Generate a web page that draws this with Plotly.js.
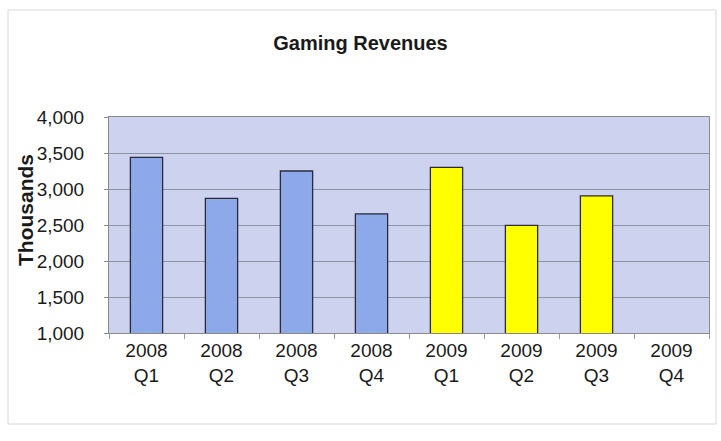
<!DOCTYPE html>
<html>
<head>
<meta charset="utf-8">
<script src="https://cdn.plot.ly/plotly-3.0.1.min.js"></script>
<style>
  html, body { margin: 0; padding: 0; background: #ffffff; }
  #chart { width: 721px; height: 441px; }
</style>
</head>
<body>
<div id="chart"></div>
<script>
const years = ["2008", "2008", "2008", "2008", "2009", "2009", "2009", "2009"];
const quarters = ["Q1", "Q2", "Q3", "Q4", "Q1", "Q2", "Q3", "Q4"];
const revenues = [3440, 2870, 3250, 2655, 3300, 2495, 2905, null];
const yTickValues = [1000, 1500, 2000, 2500, 3000, 3500, 4000];
const yTickLabels = ["1,000", "1,500", "2,000", "2,500", "3,000", "3,500", "4,000"];

const categories = years.map((y, i) => y + "<br>" + quarters[i]);
const barColors = years.map(y => y === "2008" ? "#8DA9EA" : "#FFFF00");

const W = 721, H = 441;
const m = { l: 109, r: 12, t: 117, b: 108 };
const pw = W - m.l - m.r, ph = H - m.t - m.b;
const px = v => (v - m.l) / pw;
const py = v => 1 - (v - m.t) / ph;

const trace = {
  type: "bar",
  x: categories,
  y: revenues,
  marker: { color: barColors, line: { color: "#2B2B3A", width: 1.3 } },
  width: 0.43,
  hoverinfo: "skip"
};

const layout = {
  width: W, height: H,
  margin: m,
  paper_bgcolor: "#ffffff",
  plot_bgcolor: "#CDD2EF",
  showlegend: false,
  font: { family: "Liberation Sans, Arial, sans-serif", color: "#1a1a1a" },
  title: {
    text: "Gaming Revenues",
    font: { family: "Liberation Sans, Arial, sans-serif", size: 20, color: "#1a1a1a", weight: "bold" },
    x: 0.5, xref: "container", xanchor: "center",
    y: 1 - 43 / H, yref: "container", yanchor: "middle"
  },
  xaxis: {
    type: "category",
    tickfont: { size: 19 },
    ticks: "outside", tickson: "boundaries", ticklen: 5, tickcolor: "#9a9a9a",
    showline: true, linecolor: "#8a8a8a", linewidth: 1,
    mirror: true,
    showgrid: false, fixedrange: true
  },
  yaxis: {
    range: [1000, 4000],
    tickvals: yTickValues, ticktext: yTickLabels,
    tickfont: { size: 19 },
    ticks: "outside", ticklen: 4, tickcolor: "#8a8a8a",
    ticklabelstandoff: 16,
    showgrid: true, gridcolor: "#8E93A6", gridwidth: 1,
    showline: true, linecolor: "#8a8a8a", linewidth: 1, mirror: true,
    zeroline: false, fixedrange: true
  },
  annotations: [{
    text: "Thousands",
    xref: "paper", yref: "paper",
    x: px(25), y: py(210),
    showarrow: false, textangle: -90,
    font: { family: "Liberation Sans, Arial, sans-serif", size: 21, color: "#1a1a1a", weight: "bold" },
    xanchor: "center", yanchor: "middle"
  }],
  shapes: [{
    type: "rect", xref: "paper", yref: "paper", layer: "below",
    x0: px(8), x1: px(716), y0: py(10), y1: py(424),
    line: { color: "#d8d8d8", width: 1 }, fillcolor: "rgba(0,0,0,0)"
  }]
};

Plotly.newPlot("chart", [trace], layout, { displayModeBar: false, staticPlot: true });
</script>
</body>
</html>
